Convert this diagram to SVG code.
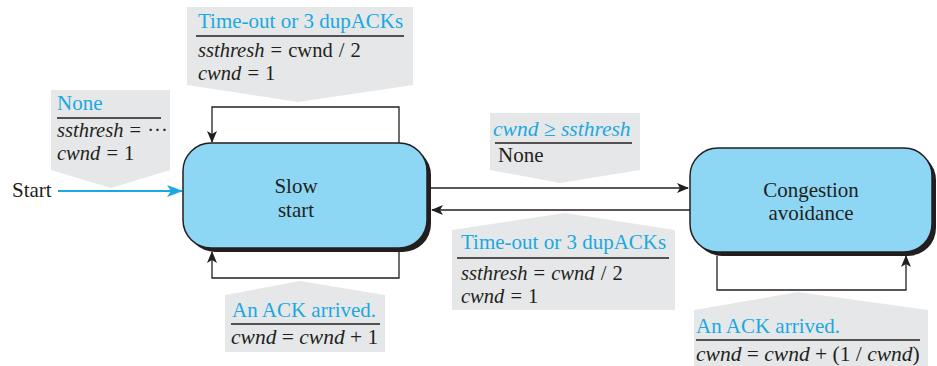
<svg xmlns="http://www.w3.org/2000/svg" width="937" height="366" viewBox="0 0 937 366">
<style>
text{font-family:"Liberation Serif","Times New Roman",serif;font-size:21px;fill:#231f20}
.m{font-size:21.5px}
.s{font-size:20.5px;word-spacing:1px}
.b{fill:#1aa9e1}
.i{font-style:italic}
.call{fill:#e6e7e8;stroke:none}
.rule{stroke:#231f20;stroke-width:1.5}
.conn{fill:none;stroke:#231f20;stroke-width:1.3}
.node{fill:#8dd7f5;stroke:#231f20;stroke-width:1.5}
.shadow{fill:#231f20}
.c{text-anchor:middle}
</style>
<defs>
<marker id="ah" viewBox="0 0 12 10" refX="11" refY="5" markerWidth="12" markerHeight="10" markerUnits="userSpaceOnUse" orient="auto">
<path d="M0,0 L12,5 L0,10 L3,5 Z" fill="#231f20"/>
</marker>
<marker id="ahb" viewBox="0 0 16 12" refX="15" refY="6" markerWidth="16" markerHeight="12" markerUnits="userSpaceOnUse" orient="auto">
<path d="M0,0 L16,6 L0,12 L4,6 Z" fill="#1aa9e1"/>
</marker>
</defs>

<g id="callouts">
<g id="c-top">
<path class="call" d="M187,7 H413 V85 L298,102 L187,85 Z"/>
<text class="b" x="198" y="28">Time-out or 3 dupACKs</text>
<line class="rule" x1="196" y1="36" x2="404" y2="36"/>
<text class="s" x="198" y="57"><tspan class="i">ssthresh</tspan> = cwnd / 2</text>
<text class="s" x="198" y="80"><tspan class="i">cwnd</tspan> = 1</text>
</g>
<g id="c-init">
<path class="call" d="M51,90 H170 V170 L111,188 L51,170 Z"/>
<text class="b" x="57" y="110">None</text>
<line class="rule" x1="57" y1="118" x2="161" y2="118"/>
<text class="s" x="57" y="137"><tspan class="i">ssthresh</tspan> = ···</text>
<text class="s" x="57" y="160"><tspan class="i">cwnd</tspan> = 1</text>
</g>
<g id="c-mid-top">
<path class="call" d="M490,113 H640 V170 L560,183 L490,170 Z"/>
<text class="b i m" x="493" y="136">cwnd ≥ ssthresh</text>
<line class="rule" x1="495" y1="143" x2="632" y2="143"/>
<text x="498" y="162">None</text>
</g>
<g id="c-mid-bot">
<path class="call" d="M565,213 L675,230 V310 H452 V230 Z"/>
<text class="b" x="461" y="249">Time-out or 3 dupACKs</text>
<line class="rule" x1="457" y1="258" x2="669" y2="258"/>
<text class="s" x="461" y="280"><tspan class="i">ssthresh</tspan> = <tspan class="i">cwnd</tspan> / 2</text>
<text class="s" x="461" y="303"><tspan class="i">cwnd</tspan> = 1</text>
</g>
<g id="c-bot-left">
<path class="call" d="M300,281 L385,295 V352 H225 V295 Z"/>
<text class="b" x="232" y="317">An ACK arrived.</text>
<line class="rule" x1="231" y1="324" x2="380" y2="324"/>
<text class="m" x="231" y="344"><tspan class="i">cwnd</tspan> = <tspan class="i">cwnd</tspan> + 1</text>
</g>
<g id="c-bot-right">
<path class="call" d="M798,292 L928,310 V366 H694 V310 Z"/>
<text class="b" x="696" y="333">An ACK arrived.</text>
<line class="rule" x1="696" y1="340" x2="920" y2="340"/>
<text class="m" x="696" y="361"><tspan class="i">cwnd</tspan> = <tspan class="i">cwnd</tspan> + (1 / <tspan class="i">cwnd</tspan>)</text>
</g>
</g>

<g id="connectors">
<text x="12" y="197">Start</text>
<line x1="58" y1="191" x2="182" y2="191" stroke="#1aa9e1" stroke-width="2.2" marker-end="url(#ahb)"/>
<path class="conn" d="M399,143 V107 H212 V142" marker-end="url(#ah)"/>
<path class="conn" d="M399,252 V278 H212 V252" marker-end="url(#ah)"/>
<path class="conn" d="M431,188 H688" marker-end="url(#ah)"/>
<path class="conn" d="M690,210 H432" marker-end="url(#ah)"/>
<path class="conn" d="M717,256 V290 H906 V256" marker-end="url(#ah)"/>
</g>

<g id="slow-start">
<rect class="shadow" x="187" y="147" width="244" height="105" rx="28"/>
<rect class="node" x="183" y="143" width="244" height="105" rx="28"/>
<text class="c" x="296" y="193">Slow</text>
<text class="c" x="296" y="217">start</text>
</g>

<g id="congestion-avoidance">
<rect class="shadow" x="694" y="152" width="242" height="104" rx="28"/>
<rect class="node" x="690" y="148" width="242" height="104" rx="28"/>
<text class="c" x="811" y="197">Congestion</text>
<text class="c" x="811" y="220">avoidance</text>
</g>
</svg>
